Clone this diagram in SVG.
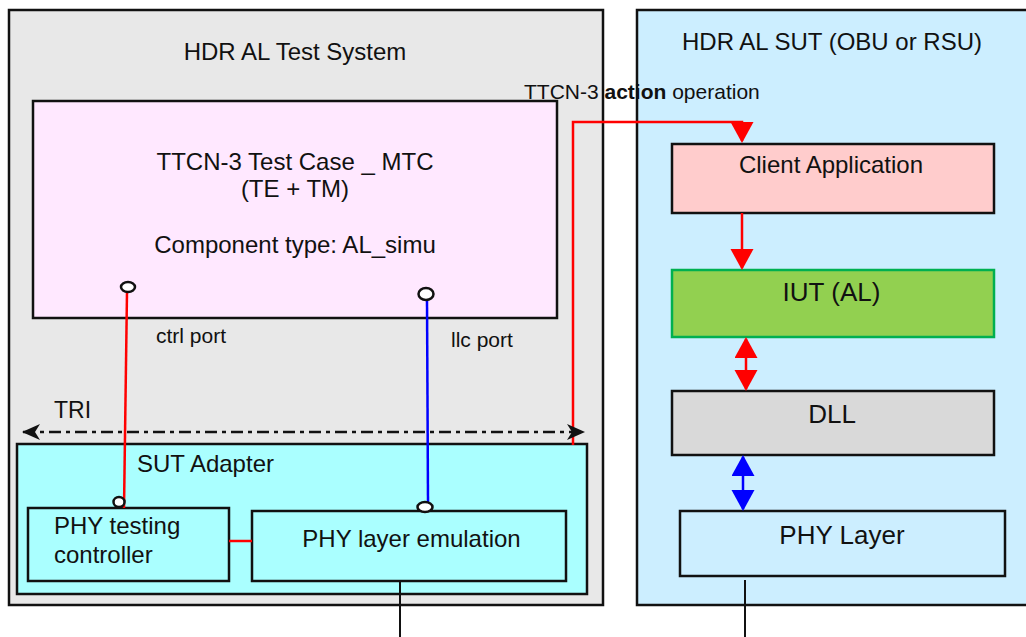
<svg xmlns="http://www.w3.org/2000/svg" width="1026" height="637" viewBox="0 0 1026 637">
<style>
text{font-family:"Liberation Sans",Arial,sans-serif;fill:#111}
.box{stroke:#111;stroke-width:2.5}
.t24{font-size:24px}
.t26{font-size:26px}
.t21{font-size:21px}
.mid{text-anchor:middle}
.red{stroke:#ff0000;stroke-width:2.5;fill:none}
.blue{stroke:#0000ff;stroke-width:2.5;fill:none}
.blk{stroke:#111;stroke-width:2;fill:none}
.port{fill:#fff;stroke:#111;stroke-width:2.5}
</style>
<defs>
<marker id="ahR" markerUnits="userSpaceOnUse" markerWidth="22" markerHeight="24" refX="19" refY="11.5" orient="auto-start-reverse" viewBox="0 0 22 24">
<path d="M0,0 L21,11.5 L0,23 z" fill="#ff0000"/>
</marker>
<marker id="ahB" markerUnits="userSpaceOnUse" markerWidth="22" markerHeight="24" refX="19" refY="11.5" orient="auto-start-reverse" viewBox="0 0 22 24">
<path d="M0,0 L21,11.5 L0,23 z" fill="#0000ff"/>
</marker>
<marker id="ahK" markerUnits="userSpaceOnUse" markerWidth="20" markerHeight="18" refX="17" refY="8" orient="auto-start-reverse" viewBox="0 0 20 18">
<path d="M0,0 L18,8 L0,16 L5,8 z" fill="#111"/>
</marker>
</defs>

<g id="test-system">
<rect x="9" y="10" width="594" height="595" fill="#e8e8e8" class="box"/>
<text x="295" y="60" class="t24 mid">HDR AL Test System</text>
</g>

<g id="sut">
<rect x="637" y="10" width="400" height="595" fill="#cceeff" class="box"/>
<text x="832" y="50" class="t24 mid">HDR AL SUT (OBU or RSU)</text>
</g>

<g id="mtc">
<rect x="33" y="101" width="524" height="217" fill="#ffe8ff" class="box"/>
<text x="295" y="170" class="t24 mid">TTCN-3 Test Case _ MTC</text>
<text x="295" y="197" class="t24 mid">(TE + TM)</text>
<text x="295" y="253" class="t24 mid">Component type: AL_simu</text>
</g>

<g id="sut-adapter">
<rect x="17" y="444" width="570" height="150" fill="#aaffff" class="box"/>
<text x="137" y="472" class="t24">SUT Adapter</text>
</g>

<g id="phy-testing-controller">
<rect x="28" y="508" width="201" height="73" fill="#aaffff" class="box"/>
<text x="54" y="534" class="t24">PHY testing</text>
<text x="54" y="563" class="t24">controller</text>
</g>

<g id="phy-layer-emulation">
<rect x="252" y="511" width="314" height="70" fill="#aaffff" class="box"/>
<text x="411.5" y="547" class="t24 mid">PHY layer emulation</text>
</g>

<g id="client-application">
<rect x="672" y="144" width="322" height="69" fill="#ffcccc" class="box"/>
<text x="831" y="173" class="t24 mid">Client Application</text>
</g>

<g id="iut">
<rect x="672" y="270" width="322" height="67" fill="#92d050" stroke="#00b050" stroke-width="2.5"/>
<text x="831.5" y="301" class="t26 mid">IUT (AL)</text>
</g>

<g id="dll">
<rect x="672" y="391" width="322" height="64" fill="#d9d9d9" class="box"/>
<text x="832" y="423" class="t26 mid">DLL</text>
</g>

<g id="phy-layer">
<rect x="680" y="511" width="325" height="65" fill="#cceeff" class="box"/>
<text x="842" y="544" class="t26 mid">PHY Layer</text>
</g>

<g id="labels">
<text x="524" y="99" class="t21">TTCN-3 <tspan font-weight="bold">action</tspan> operation</text>
<text x="156" y="343" class="t21">ctrl port</text>
<text x="451" y="347" class="t21">llc port</text>
<text x="54" y="418" style="font-size:23px">TRI</text>
</g>

<g id="connectors">
<path class="red" d="M127,292 L124,508"/>
<path class="blue" d="M427,300 L428,502"/>
<path class="red" d="M229,541 H252"/>
<path class="red" d="M573,445 V122 H742 V141" marker-end="url(#ahR)"/>
<path class="red" d="M742,213 V268" marker-end="url(#ahR)"/>
<path class="red" d="M746,339 V389" marker-start="url(#ahR)" marker-end="url(#ahR)"/>
<path class="blue" d="M743,457 V509" marker-start="url(#ahB)" marker-end="url(#ahB)"/>
<path d="M23,432 H584" stroke="#111" stroke-width="2.5" fill="none" stroke-dasharray="12,5,4,5" marker-start="url(#ahK)" marker-end="url(#ahK)"/>
<path class="blk" d="M400,581 V637"/>
<path class="blk" d="M745,580 V637"/>
<ellipse class="port" cx="128" cy="287" rx="7" ry="5"/>
<ellipse class="port" cx="426" cy="294" rx="7.5" ry="6"/>
<ellipse class="port" cx="119" cy="502" rx="5.5" ry="5"/>
<ellipse class="port" cx="425" cy="507" rx="7.5" ry="5"/>
</g>
</svg>
